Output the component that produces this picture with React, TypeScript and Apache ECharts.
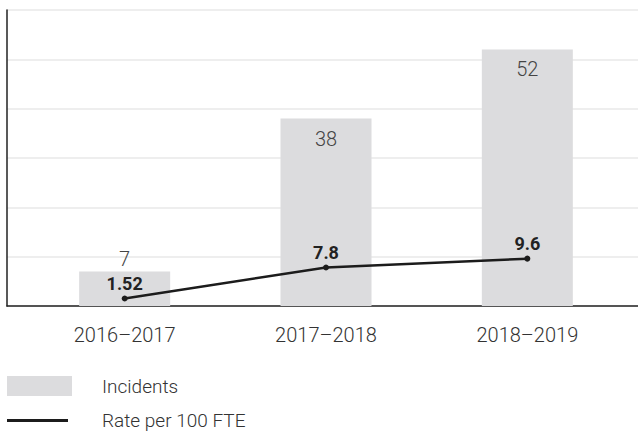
import React, { useEffect, useRef } from "react";
import * as echarts from "echarts";

const categories = ["2016–2017", "2017–2018", "2018–2019"];
const incidents = [7, 38, 52];
const ratePer100FTE = [1.52, 7.8, 9.6];
const yTicks = [0, 10, 20, 30, 40, 50, 60];

const FONT = "Roboto, 'Open Sans', sans-serif";

export default function App() {
  const ref = useRef<HTMLDivElement>(null);
  useEffect(() => {
    if (!ref.current) return;
    const chart = echarts.init(ref.current, null, { renderer: "svg" });
    const yMax = yTicks[yTicks.length - 1];
    const yInterval = yTicks[1] - yTicks[0];
    chart.setOption({
      animation: false,
      textStyle: { fontFamily: FONT },
      grid: [
        { left: 7, right: 0, top: 10, bottom: 128, containLabel: false },
        { left: 24, right: 10, top: 10, bottom: 128, containLabel: false },
      ],
      xAxis: [
        {
          gridIndex: 0,
          type: "category",
          data: [""],
          axisLine: { show: true, lineStyle: { color: "#222", width: 1.5 } },
          axisTick: { show: false },
          axisLabel: { show: false },
        },
        {
          gridIndex: 1,
          type: "category",
          data: categories,
          axisLine: { show: false },
          axisTick: { show: false },
          axisLabel: {
            show: true,
            margin: 19,
            color: "#333",
            fontSize: 20,
            fontWeight: 300,
            fontFamily: FONT,
          },
        },
      ],
      yAxis: [
        {
          gridIndex: 0,
          type: "value",
          min: 0,
          max: yMax,
          interval: yInterval,
          axisLine: { show: true, lineStyle: { color: "#222", width: 1.5 } },
          axisTick: { show: false },
          axisLabel: { show: false },
          splitLine: { show: true, lineStyle: { color: "#e9e9e9", width: 1.5 } },
        },
        {
          gridIndex: 1,
          type: "value",
          min: 0,
          max: yMax,
          interval: yInterval,
          show: false,
          splitLine: { show: false },
        },
      ],
      legend: [
        {
          data: [{ name: "Incidents", icon: "rect" }],
          left: 7,
          top: 376,
          padding: 0,
          itemWidth: 65,
          itemHeight: 20,
          textStyle: { fontSize: 19, color: "#333", fontWeight: 300, fontFamily: FONT, padding: [0, 0, 0, 25] },
          selectedMode: false,
        },
        {
          data: [{ name: "Rate per 100 FTE", icon: "rect" }],
          left: 7,
          top: 411,
          padding: 0,
          itemWidth: 61,
          itemHeight: 3,
          textStyle: { fontSize: 19, color: "#333", fontWeight: 300, fontFamily: FONT, padding: [0, 0, 0, 29] },
          selectedMode: false,
        },
      ],
      series: [
        {
          name: "Incidents",
          type: "bar",
          xAxisIndex: 1,
          yAxisIndex: 1,
          barWidth: 91,
          itemStyle: { color: "#dcdcde" },
          data: incidents.map((v) => ({
            value: v,
            label:
              v < 15
                ? { position: "top", distance: 2 }
                : { position: "insideTop", distance: 10 },
          })),
          label: {
            show: true,
            color: "#444",
            fontSize: 20,
            fontWeight: 300,
            fontFamily: FONT,
          },
          z: 2,
        },
        {
          name: "Rate per 100 FTE",
          type: "line",
          xAxisIndex: 1,
          yAxisIndex: 1,
          data: ratePer100FTE,
          lineStyle: { color: "#1c1c1c", width: 2.5 },
          itemStyle: { color: "#1c1c1c" },
          symbol: "circle",
          symbolSize: 6,
          label: {
            show: true,
            position: "top",
            distance: 3,
            color: "#222",
            fontSize: 18,
            fontWeight: "bold",
            fontFamily: FONT,
          },
          z: 3,
        },
      ],
    });
    return () => chart.dispose();
  }, []);
  return <div ref={ref} style={{ width: 638, height: 434, position: "absolute", left: 0, top: 0 }} />;
}
